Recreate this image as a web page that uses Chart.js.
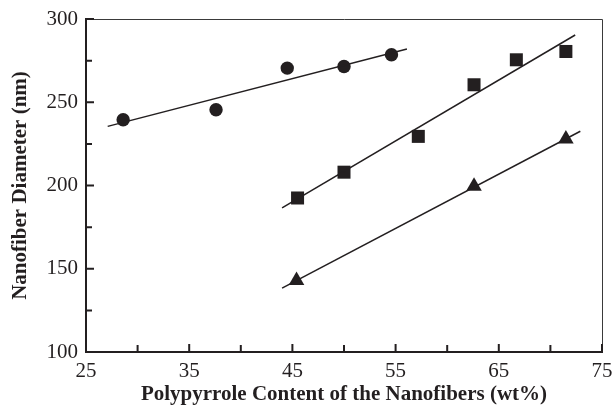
<!DOCTYPE html>
<html lang="en">
<head>
  <meta charset="UTF-8">
  <title>Nanofiber Diameter</title>
  <script src="https://cdn.jsdelivr.net/npm/chart.js"></script>
  <style>
    body { margin: 0; background: #fff; }
    #wrap { width: 613px; height: 407px; }
  </style>
</head>
<body>
  <div id="wrap"><canvas id="chart"></canvas></div>

  <script>
    // measured points
    const circleX = [28.6, 37.6, 44.5, 50.0, 54.6];
    const circleY = [239.5, 245.5, 270.5, 271.5, 278.5];
    const squareX = [45.5, 50.0, 57.2, 62.6, 66.7, 71.5];
    const squareY = [192.5, 208, 229.5, 260.5, 275.5, 280.5];
    const triangleX = [45.4, 62.6, 71.5];
    const triangleY = [143, 199.5, 228];

    // fitted lines (start / end)
    const circleFitX = [27.1, 56.1];
    const circleFitY = [235.5, 282.0];
    const squareFitX = [44.0, 72.4];
    const squareFitY = [186.6, 290.4];
    const triangleFitX = [44.0, 72.9];
    const triangleFitY = [138.4, 232.6];

    const xTicks = [25, 35, 45, 55, 65, 75];
    const yTicks = [100, 150, 200, 250, 300];

    const pts = (xs, ys) => xs.map((x, i) => ({ x: x, y: ys[i] }));
    const serif = "'Liberation Serif', 'Times New Roman', serif";

    function marks(xs, ys, style, r) {
      return {
        type: 'scatter',
        data: pts(xs, ys),
        pointStyle: style,
        pointRadius: r,
        backgroundColor: '#231f20',
        borderColor: '#231f20',
        borderWidth: 0,
        showLine: false
      };
    }

    function fit(xs, ys) {
      return {
        type: 'line',
        data: pts(xs, ys),
        borderColor: '#231f20',
        borderWidth: 1.5,
        pointRadius: 0,
        fill: false
      };
    }

    // inward ticks + thin top/right frame
    const frame = {
      id: 'frame',
      afterDraw(chart) {
        const ctx = chart.ctx;
        const a = chart.chartArea;
        const xs = chart.scales.x, ys = chart.scales.y;
        ctx.save();
        ctx.strokeStyle = '#3a3a3a';
        ctx.lineWidth = 1;
        ctx.beginPath();
        ctx.moveTo(a.left, a.top + 0.5);
        ctx.lineTo(a.right + 0.5, a.top + 0.5);
        ctx.lineTo(a.right + 0.5, a.bottom);
        ctx.stroke();
        ctx.strokeStyle = '#231f20';
        ctx.lineWidth = 2;
        ctx.beginPath();
        for (let v = 25; v <= 75; v += 5) {
          const px = xs.getPixelForValue(v);
          const len = v % 10 === 5 ? 8 : 7;
          ctx.moveTo(px, a.bottom);
          ctx.lineTo(px, a.bottom - len);
        }
        for (let v = 100; v <= 300; v += 25) {
          const py = ys.getPixelForValue(v);
          const len = v % 50 === 0 ? 8 : 6;
          ctx.moveTo(a.left, py);
          ctx.lineTo(a.left + len, py);
        }
        ctx.stroke();
        ctx.restore();
      }
    };

    new Chart(document.getElementById('chart'), {
      data: {
        datasets: [
          fit(circleFitX, circleFitY),
          fit(squareFitX, squareFitY),
          fit(triangleFitX, triangleFitY),
          marks(circleX, circleY, 'circle', 6.7),
          marks(squareX, squareY, 'rect', 9.2),
          marks(triangleX, triangleY, 'triangle', 9)
        ]
      },
      options: {
        responsive: true,
        maintainAspectRatio: false,
        animation: false,
        layout: { padding: { top: 19, right: 11, left: 0, bottom: 0 } },
        plugins: {
          legend: { display: false },
          tooltip: { enabled: false }
        },
        scales: {
          x: {
            type: 'linear',
            min: 25,
            max: 75,
            afterBuildTicks: s => { s.ticks = xTicks.map(v => ({ value: v })); },
            afterFit: s => { s.height = 55; s.paddingLeft = 0; s.paddingRight = 0; },
            grid: { display: false, drawTicks: false },
            border: { display: true, color: '#231f20', width: 2 },
            ticks: {
              color: '#231f20',
              padding: 7,
              maxRotation: 0,
              font: { family: serif, size: 21 }
            },
            title: {
              display: true,
              text: 'Polypyrrole Content of the Nanofibers (wt%)',
              color: '#231f20',
              padding: { top: 0, bottom: 0 },
              font: { family: serif, size: 21, weight: 'bold' }
            }
          },
          y: {
            type: 'linear',
            min: 100,
            max: 300,
            afterBuildTicks: s => { s.ticks = yTicks.map(v => ({ value: v })); },
            afterFit: s => { s.width = 86; s.paddingTop = 0; s.paddingBottom = 0; },
            grid: { display: false, drawTicks: false },
            border: { display: true, color: '#231f20', width: 2 },
            ticks: {
              color: '#231f20',
              padding: 8,
              font: { family: serif, size: 21 }
            },
            title: {
              display: true,
              text: 'Nanofiber Diameter (nm)',
              color: '#231f20',
              padding: { top: 8, bottom: 6 },
              font: { family: serif, size: 21, weight: 'bold' }
            }
          }
        }
      },
      plugins: [frame]
    });
  </script>
</body>
</html>
